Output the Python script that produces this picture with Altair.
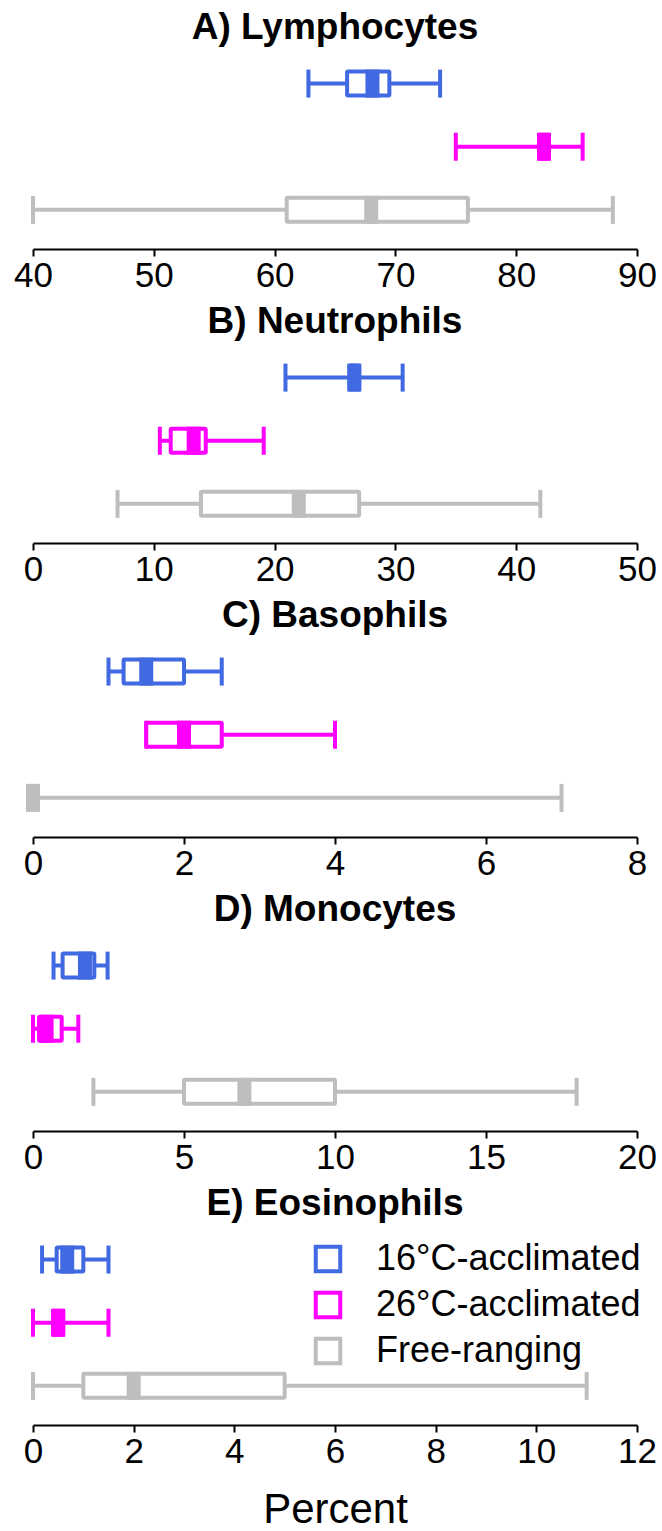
import altair as alt
import pandas as pd

# Groups shown in every panel, top to bottom
groups = ["16°C-acclimated", "26°C-acclimated", "Free-ranging"]
group_colors = ["#4169E1", "#FF00FF", "#BEBEBE"]

# Panels (white blood cell types) and their x-axis ranges
panel_titles = ["A) Lymphocytes", "B) Neutrophils", "C) Basophils", "D) Monocytes", "E) Eosinophils"]
axis_min = [40, 0, 0, 0, 0]
axis_max = [90, 50, 8, 20, 12]
axis_step = [10, 10, 2, 5, 2]

# Box-plot statistics (percent), one list per panel in group order
whisker_low = [[62.8, 75.0, 40.0], [20.9, 10.5, 7.0], [1.0, 1.5, 0.0], [0.68, 0.0, 2.0], [0.18, 0.0, 0.0]]
lower_quartile = [[66.0, 81.9, 61.0], [26.2, 11.4, 13.9], [1.2, 1.5, 0.0], [0.98, 0.2, 5.0], [0.47, 0.4, 1.0]]
median = [[68.1, 82.3, 68.0], [26.6, 13.3, 22.0], [1.5, 2.0, 0.0], [1.72, 0.45, 7.0], [0.68, 0.5, 2.0]]
upper_quartile = [[69.5, 82.7, 76.0], [27.0, 14.3, 27.0], [2.0, 2.5, 0.0], [2.03, 0.95, 10.0], [1.0, 0.6, 5.0]]
whisker_high = [[73.7, 85.5, 88.0], [30.6, 19.1, 42.0], [2.5, 4.0, 7.0], [2.47, 1.5, 18.0], [1.5, 1.5, 11.0]]

FONT = "Liberation Sans"
PLOT_W = 604
PLOT_H = 202
LINE_W = 4


def panel(i):
    df = pd.DataFrame({
        "group": groups,
        "lo": whisker_low[i],
        "q1": lower_quartile[i],
        "med": median[i],
        "q3": upper_quartile[i],
        "hi": whisker_high[i],
    })
    last = i == len(panel_titles) - 1

    x_scale = alt.Scale(domain=[axis_min[i], axis_max[i]], nice=False, zero=False)
    ticks = list(range(axis_min[i], axis_max[i] + 1, axis_step[i]))
    x_axis = alt.Axis(
        values=ticks, format="d", grid=False, labelFlush=False, labelOverlap=False,
        title="Percent" if last else None,
        titleFont=FONT, titleFontSize=42, titleFontWeight="normal", titleColor="black",
        titlePadding=20,
    )
    y_enc = alt.Y("group:N", sort=groups,
                  scale=alt.Scale(domain=groups, paddingInner=0, paddingOuter=0.1, align=0.4),
                  axis=None)
    color_enc = alt.Color("group:N", scale=alt.Scale(domain=groups, range=group_colors),
                          legend=None)

    if last:
        stroke_legend = alt.Legend(
            orient="none", legendX=277, legendY=18, title=None, padding=0,
            symbolType="square", symbolSize=600, symbolStrokeWidth=LINE_W,
            symbolFillColor="white", symbolOpacity=1,
            labelFont=FONT, labelFontSize=36, labelColor="black", labelLimit=0,
            labelOffset=30, rowPadding=4,
        )
    else:
        stroke_legend = None
    # box outlines carry the key; their scale takes its domain from the data
    stroke_enc = alt.Stroke("group:N", sort=groups, scale=alt.Scale(range=group_colors),
                            legend=stroke_legend)

    base = alt.Chart(df)
    whisker = base.mark_rule(strokeWidth=LINE_W).encode(
        x=alt.X("lo:Q", scale=x_scale, axis=x_axis), x2="hi:Q", y=y_enc, color=color_enc)
    cap_lo = base.mark_tick(size=28, thickness=LINE_W, opacity=1).encode(
        x=alt.X("lo:Q"), y=y_enc, color=color_enc)
    cap_hi = base.mark_tick(size=28, thickness=LINE_W, opacity=1).encode(
        x=alt.X("hi:Q"), y=y_enc, color=color_enc)
    box = base.mark_bar(size=24, fill="white", strokeWidth=LINE_W, cornerRadius=1).encode(
        x=alt.X("q1:Q"), x2="q3:Q", y=y_enc, stroke=stroke_enc)
    mid = base.mark_tick(size=28, thickness=14, opacity=1).encode(
        x=alt.X("med:Q"), y=y_enc, color=color_enc)

    return alt.layer(whisker, cap_lo, cap_hi, box, mid).properties(
        width=PLOT_W, height=PLOT_H,
        title=alt.TitleParams(panel_titles[i], font=FONT, fontSize=37, fontWeight="bold",
                              color="black", anchor="middle", offset=0),
    )


chart = alt.vconcat(*[panel(i) for i in range(len(panel_titles))], spacing=10).resolve_scale(
    color="independent", stroke="independent", x="independent"
).resolve_legend(stroke="independent").properties(
    padding={"left": 13, "top": 9, "right": 5, "bottom": 0},
    background="white",
).configure_view(stroke=None).configure_axis(
    domainColor="black", domainWidth=2, tickColor="black", tickWidth=2, tickSize=7,
    labelFont=FONT, labelFontSize=35, labelColor="black", labelPadding=2,
)

chart.save("out.html", embed_options={"renderer": "svg", "actions": False})
